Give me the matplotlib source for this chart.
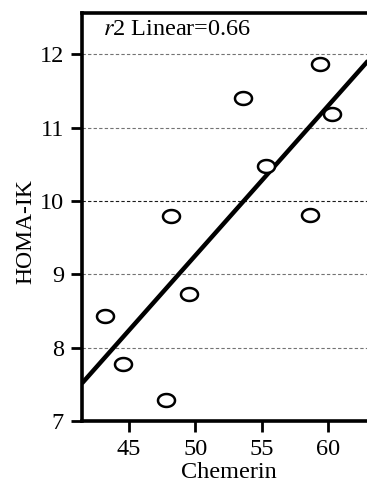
import numpy as np
import matplotlib
matplotlib.use("Agg")
import matplotlib.pyplot as plt
from matplotlib.path import Path

chemerin = [59.4, 53.6, 60.3, 55.3, 48.2, 58.6, 49.5, 43.2, 44.6, 47.8]
homa = [11.86, 11.40, 11.18, 10.47, 9.80, 9.81, 8.73, 8.43, 7.78, 7.29]
xticks = [45, 50, 55, 60]
yticks = [7, 8, 9, 10, 11, 12]

plt.rcParams['font.family'] = ['Liberation Serif', 'DejaVu Serif']

W, H = 367, 487
fig = plt.figure(figsize=(W / 100, H / 100), dpi=100)
xmin, xmax = 41.5, 63.5
ymin, ymax = 7.0, 12.56
left_px, top_px, bottom_px = 82, 13, 421.3
px_per_x = 13.32
right_px = left_px + (xmax - xmin) * px_per_x
ax = fig.add_axes([left_px / W, (H - bottom_px) / H,
                   (right_px - left_px) / W, (bottom_px - top_px) / H])
ax.set_xlim(xmin, xmax)
ax.set_ylim(ymin, ymax)

for yv in yticks[1:]:
    col = '0.1' if yv == 10 else '0.45'
    ax.axhline(yv, color=col, lw=0.8, ls=(0, (3, 2)), zorder=1)

coef = np.polyfit(chemerin, homa, 1)
xs = np.array([xmin, xmax])
ax.plot(xs, np.polyval(coef, xs), color='black', lw=3.2, zorder=2,
        solid_capstyle='butt')

t = np.linspace(0, 2 * np.pi, 60)
ell = Path(np.column_stack([np.cos(t), 0.76 * np.sin(t)]), closed=True)
ax.scatter(chemerin, homa, s=150, marker=ell, facecolors='white',
           edgecolors='black', linewidths=1.8, zorder=3)

for s in ['right', 'top', 'left', 'bottom']:
    ax.spines[s].set_linewidth(2.6)

ax.set_xticks(xticks)
ax.set_yticks(yticks)
ax.tick_params(direction='out', length=8, width=2, labelsize=17.5, pad=5)
ax.set_xlabel('Chemerin', fontsize=17.5, labelpad=1)
ax.set_ylabel('HOMA-IK', fontsize=17)
ax.yaxis.set_label_coords(-46 / (right_px - left_px), 0.464)

ax.text(43.05, 12.34, r'$\it{r}$2 Linear=0.66', fontsize=17.5, va='center',
        ha='left', math_fontfamily='stix')

fig.savefig('out.png', dpi=100)
